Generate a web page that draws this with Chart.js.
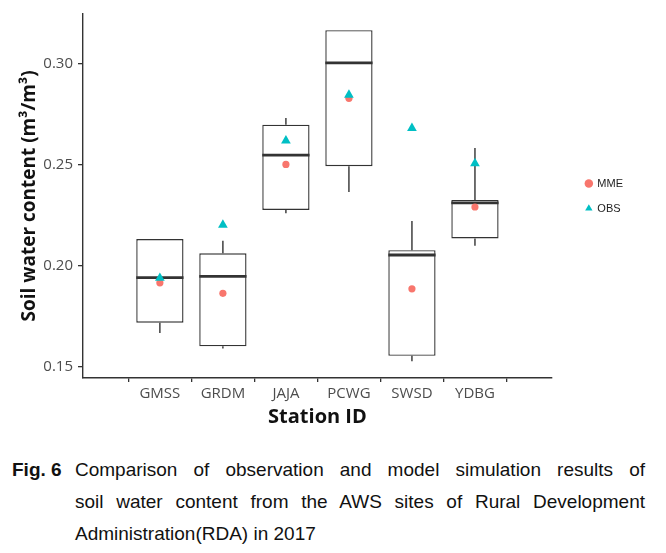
<!DOCTYPE html>
<html>
<head>
<meta charset="utf-8">
<script src="https://cdn.jsdelivr.net/npm/chart.js@4.4.1/dist/chart.umd.min.js"></script>
<style>
  html, body { margin: 0; padding: 0; background: #fff; }
  #wrap { position: relative; width: 666px; height: 553px; overflow: hidden; }
  #chart { position: absolute; left: 0; top: 0; }
  .caption { position: absolute; left: 12px; top: 454px; font-family: 'Liberation Sans', Arial, sans-serif; font-size: 19px; line-height: 32px; color: #111; }
  .caption .fig { position: absolute; left: 0; top: 0; font-weight: bold; }
  .caption .body { margin-left: 63px; width: 570px; }
  .caption .jl { text-align: justify; text-align-last: justify; }
</style>
</head>
<body>
<div id="wrap">
  <canvas id="chart" width="666" height="440"></canvas>
  <div class="caption">
    <span class="fig">Fig. 6</span>
    <div class="body">
      <div class="jl">Comparison of observation and model simulation results of</div>
      <div class="jl">soil water content from the AWS sites of Rural Development</div>
      <div>Administration(RDA) in 2017</div>
    </div>
  </div>
</div>
<script>
// Box plot values per station (m3/m3)
const stations = ['GMSS', 'GRDM', 'JAJA', 'PCWG', 'SWSD', 'YDBG'];
const boxMin    = [0.1666, 0.1589, 0.2260, 0.2365, 0.1526, 0.2099];
const boxQ1     = [0.1717, 0.1600, 0.2276, 0.2493, 0.1553, 0.2135];
const boxMedian = [0.1941, 0.1947, 0.2548, 0.3006, 0.2053, 0.2311];
const boxQ3     = [0.2132, 0.2061, 0.2699, 0.3168, 0.2077, 0.2326];
const boxMax    = [0.2132, 0.2123, 0.2732, 0.3168, 0.2222, 0.2584];

// Mean points
const mme = [0.1915, 0.1863, 0.2502, 0.2830, 0.1885, 0.2291];
const obs = [0.1939, 0.2202, 0.2620, 0.2847, 0.2682, 0.2507];

const yTicks = [0.15, 0.20, 0.25, 0.30];
const yMin = 0.1443, yMax = 0.3248;

const axisColor = '#333333';
const tickFont = { family: 'Open Sans', size: 15 };
const titleFont = { family: 'Open Sans', size: 20, weight: 'bold' };

// whiskers + median lines on top of the box bars
const boxParts = {
    id: 'boxParts',
    afterDatasetDraw(chart, args) {
        if (args.index !== 0) return;
        const { ctx, scales: { x, y } } = chart;
        const bars = args.meta.data;
        ctx.save();
        ctx.strokeStyle = axisColor;
        stations.forEach((s, i) => {
            const cx = x.getPixelForValue(i);
            const half = bars[i].width / 2;
            ctx.lineWidth = 1.4;
            ctx.beginPath();
            ctx.moveTo(cx, y.getPixelForValue(boxQ3[i]));
            ctx.lineTo(cx, y.getPixelForValue(boxMax[i]));
            ctx.moveTo(cx, y.getPixelForValue(boxQ1[i]));
            ctx.lineTo(cx, y.getPixelForValue(boxMin[i]));
            ctx.stroke();
            ctx.lineWidth = 2.8;
            ctx.beginPath();
            ctx.moveTo(cx - half, y.getPixelForValue(boxMedian[i]));
            ctx.lineTo(cx + half, y.getPixelForValue(boxMedian[i]));
            ctx.stroke();
        });
        ctx.restore();
    }
};

new Chart(document.getElementById('chart'), {
    type: 'bar',
    data: {
        datasets: [
            {
                label: 'box',
                data: stations.map((s, i) => ({ x: i, y: [boxQ1[i], boxQ3[i]] })),
                backgroundColor: '#ffffff',
                borderColor: axisColor,
                borderWidth: 1.4,
                borderSkipped: false,
                categoryPercentage: 1,
                barPercentage: 0.75,
                order: 3
            },
            {
                label: 'MME',
                type: 'line',
                data: stations.map((s, i) => ({ x: i, y: mme[i] })),
                showLine: false,
                pointStyle: 'circle',
                pointRadius: 3.6,
                backgroundColor: '#F8766D',
                borderColor: '#F8766D',
                pointBorderWidth: 0,
                order: 2
            },
            {
                label: 'OBS',
                type: 'line',
                data: stations.map((s, i) => ({ x: i, y: obs[i] })),
                showLine: false,
                pointStyle: 'triangle',
                pointRadius: 5.6,
                backgroundColor: '#00BFC4',
                borderColor: '#00BFC4',
                pointBorderWidth: 0,
                order: 1
            }
        ]
    },
    options: {
        responsive: false,
        animation: false,
        layout: { padding: { left: 0, top: 12, right: 33, bottom: 0 } },
        plugins: {
            tooltip: { enabled: false },
            legend: {
                position: 'right',
                fullSize: false,
                labels: {
                    filter: item => item.datasetIndex > 0,
                    sort: (a, b) => a.datasetIndex - b.datasetIndex,
                    usePointStyle: true,
                    boxWidth: 6,
                    boxHeight: 6,
                    padding: 14,
                    color: '#222',
                    font: { family: 'Liberation Sans', size: 11 }
                }
            }
        },
        scales: {
            x: {
                type: 'linear',
                min: -0.6,
                max: stations.length - 0.4,
                afterBuildTicks: s => { s.ticks = stations.map((_, i) => ({ value: i })); },
                afterFit: s => { s.height = 62; },
                ticks: { callback: v => stations[v], autoSkip: false, maxRotation: 0, font: tickFont, color: '#4D4D4D', padding: 3 },
                grid: { display: true, drawOnChartArea: false, drawTicks: true, tickLength: 4, color: axisColor, lineWidth: 1.3 },
                border: { display: true, color: axisColor, width: 1.4 },
                title: { display: true, text: 'Station ID', font: titleFont, color: '#111', padding: { top: 0, bottom: 11 } }
            },
            y: {
                min: yMin,
                max: yMax,
                afterBuildTicks: s => { s.ticks = yTicks.map(v => ({ value: v })); },
                afterFit: s => { s.width = 83; },
                ticks: { callback: v => v.toFixed(2), font: tickFont, color: '#4D4D4D', padding: 5 },
                grid: { display: true, drawOnChartArea: false, drawTicks: true, tickLength: 5, color: axisColor, lineWidth: 1.3 },
                border: { display: true, color: axisColor, width: 1.4 },
                title: { display: true, text: 'Soil water content (m³/m³)', font: { family: 'Open Sans', size: 19, weight: 'bold' }, color: '#111', padding: { top: 18, bottom: 0 } }
            },
            gap: {
                type: 'linear',
                position: 'right',
                display: true,
                grid: { display: false },
                border: { display: false },
                ticks: { display: false },
                afterFit: s => { s.width = 20; }
            }
        }
    },
    plugins: [boxParts]
});
</script>
</body>
</html>
